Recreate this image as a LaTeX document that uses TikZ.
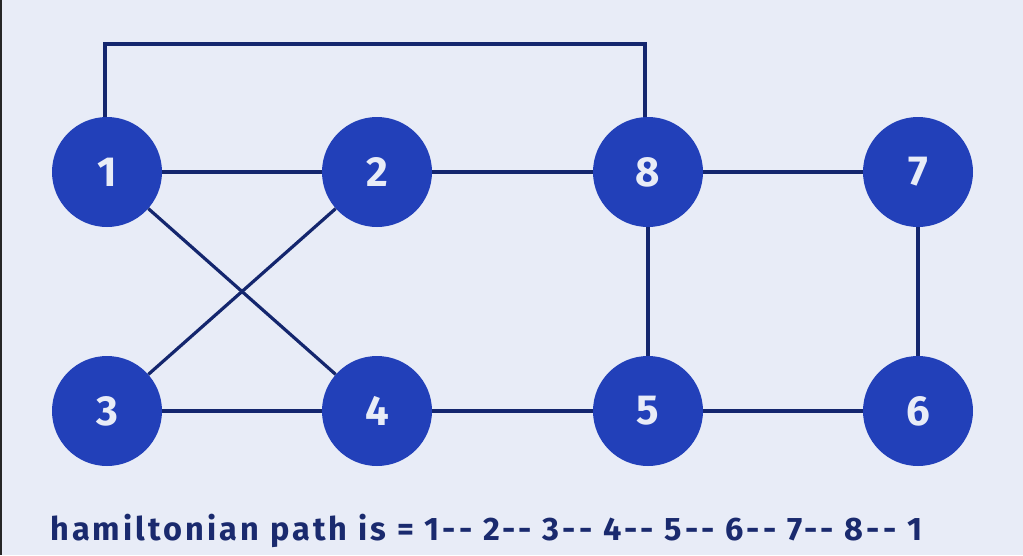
\documentclass[tikz,border=0pt]{standalone}
\usepackage{fontspec}
\setmainfont{Fira Sans}
\newfontfamily\labfont[LetterSpace=9.5]{Fira Sans Bold}
\definecolor{bg}{HTML}{E8ECF7}
\definecolor{nodefill}{HTML}{2240B9}
\definecolor{edgecol}{HTML}{14266E}
\definecolor{txtcol}{HTML}{1A2A6E}
\begin{document}
\begin{tikzpicture}[x=1pt,y=-1pt,
  vert/.style={circle,fill=nodefill,minimum size=110pt,inner sep=0pt,text=bg,font=\fontsize{42}{46}\selectfont\bfseries},
  edge/.style={draw=edgecol,line width=3.2pt}]
\fill[bg] (0,0) rectangle (1023,555);
\useasboundingbox (0,0) rectangle (1023,555);
\fill[black!85] (0,0) rectangle (2,555);
\node[vert] (n1) at (107,172) {1};
\node[vert] (n2) at (377,172) {2};
\node[vert] (n8) at (648,172) {8};
\node[vert] (n7) at (918,172) {7};
\node[vert] (n3) at (107,411) {3};
\node[vert] (n4) at (377,411) {4};
\node[vert] (n5) at (648,411) {5};
\node[vert] (n6) at (918,411) {6};
\coordinate (c1) at (105,44);
\coordinate (c8) at (645,44);
\path[edge] (n1) -- (n2);
\path[edge] (n2) -- (n8);
\path[edge] (n8) -- (n7);
\path[edge] (n7) -- (n6);
\path[edge] (n6) -- (n5);
\path[edge] (n5) -- (n4);
\path[edge] (n4) -- (n3);
\path[edge] (n8) -- (n5);
\path[edge] (n1) -- (n4);
\path[edge] (n2) -- (n3);
\path[edge] (n1.north -| c1) -- (c1) -- (c8) -- (n8.north -| c8);
\node[anchor=base west,text=txtcol,font=\labfont\fontsize{32.5}{36}\selectfont,inner sep=0pt] (cap) at (50,540) {hamiltonian path is = 1-- 2-- 3-- 4-- 5-- 6-- 7-- 8-- 1};
\end{tikzpicture}
\end{document}
